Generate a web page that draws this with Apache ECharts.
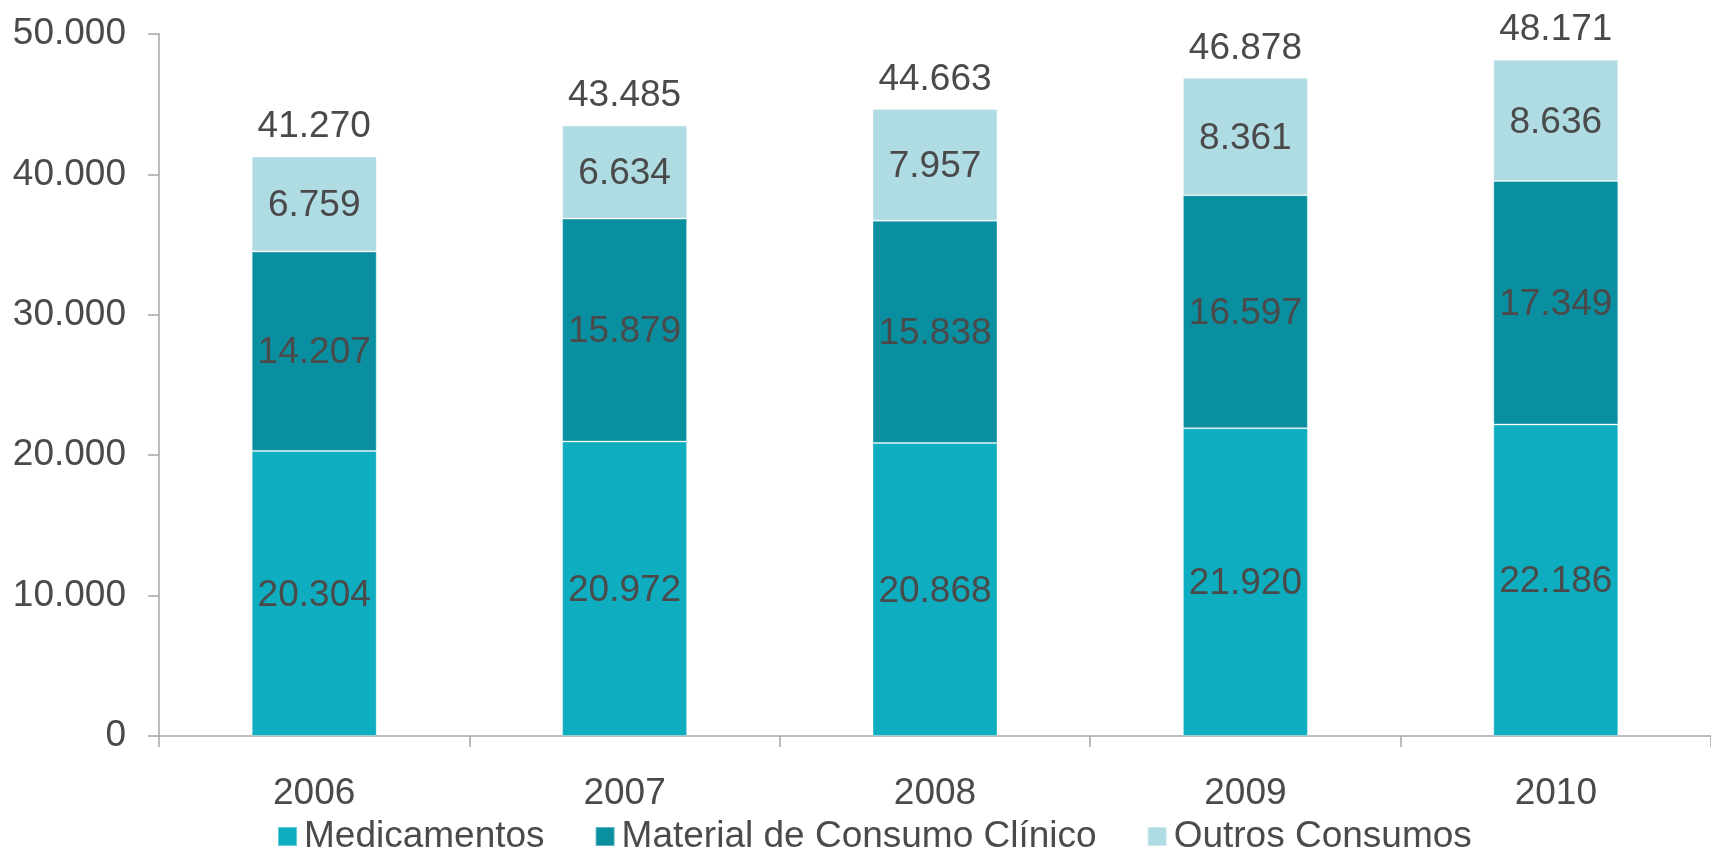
<!DOCTYPE html>
<html>
<head>
<meta charset="utf-8">
<script src="https://cdn.jsdelivr.net/npm/echarts@6/dist/echarts.min.js"></script>
<style>
  html, body { margin: 0; padding: 0; background: #fff; }
  #chart { width: 1711px; height: 849px; }
</style>
</head>
<body>
<div id="chart"></div>
<script>
var anos = ['2006', '2007', '2008', '2009', '2010'];
var medicamentos = [20304, 20972, 20868, 21920, 22186];
var material = [14207, 15879, 15838, 16597, 17349];
var outros = [6759, 6634, 7957, 8361, 8636];
var totais = [41270, 43485, 44663, 46878, 48171];

var corTexto = '#4a4a4a';
var fonte = 'Liberation Sans, Arial, sans-serif';

// 41270 -> "41.270"
function fmt(v) {
    return String(v).replace(/\B(?=(\d{3})+(?!\d))/g, '.');
}

var myChart = echarts.init(document.getElementById('chart'));

var labelDentro = {
    show: true,
    position: 'inside',
    offset: [0, 2],
    color: corTexto,
    fontSize: 37,
    fontFamily: fonte,
    formatter: function (p) { return fmt(p.value); }
};

var option = {
    backgroundColor: '#ffffff',
    animation: false,
    textStyle: { fontFamily: fonte },
    grid: {
        left: 159,
        top: 34,
        width: 1566,
        height: 702
    },
    legend: {
        left: 272,
        top: 813,
        itemWidth: 19,
        itemHeight: 19,
        itemGap: 50,
        icon: 'rect',
        textStyle: { color: corTexto, fontSize: 37, fontFamily: fonte, padding: [0, 0, 0, 2] },
        data: ['Medicamentos', 'Material de Consumo Clínico', 'Outros Consumos']
    },
    xAxis: {
        type: 'category',
        data: anos,
        axisLine: { lineStyle: { color: '#a6a6a6', width: 1.5 } },
        axisTick: { show: true, length: 11, lineStyle: { color: '#a6a6a6', width: 1.5 } },
        axisLabel: { color: corTexto, fontSize: 37, fontFamily: fonte, margin: 39 }
    },
    yAxis: {
        type: 'value',
        min: 0,
        max: 50000,
        interval: 10000,
        axisLine: { show: true, lineStyle: { color: '#a6a6a6', width: 1.5 } },
        axisTick: { show: true, length: 11, lineStyle: { color: '#a6a6a6', width: 1.5 } },
        splitLine: { show: false },
        axisLabel: {
            color: corTexto, fontSize: 37, fontFamily: fonte, margin: 33,
            formatter: function (v) { return fmt(v); }
        }
    },
    series: [
        {
            name: 'Medicamentos',
            type: 'bar',
            stack: 'total',
            barWidth: 125,
            data: medicamentos,
            itemStyle: { color: '#0eadbf', borderColor: 'rgba(255,255,255,0.35)', borderWidth: 1 },
            label: labelDentro
        },
        {
            name: 'Material de Consumo Clínico',
            type: 'bar',
            stack: 'total',
            data: material,
            itemStyle: { color: '#0a8fa0', borderColor: 'rgba(255,255,255,0.35)', borderWidth: 1 },
            label: labelDentro
        },
        {
            name: 'Outros Consumos',
            type: 'bar',
            stack: 'total',
            data: outros,
            itemStyle: { color: '#afdbe3', borderColor: 'rgba(255,255,255,0.35)', borderWidth: 1 },
            label: labelDentro
        },
        {
            // totais por cima das barras (linha invisivel so para o rotulo)
            name: 'Total',
            type: 'line',
            data: totais,
            symbol: 'circle',
            symbolSize: 2,
            showSymbol: true,
            itemStyle: { color: 'rgba(0,0,0,0)', borderWidth: 0 },
            lineStyle: { color: 'rgba(0,0,0,0)', width: 0 },
            silent: true,
            z: 10,
            label: {
                show: true,
                position: 'top',
                distance: 10,
                color: corTexto,
                fontSize: 37,
                fontFamily: fonte,
                formatter: function (p) { return fmt(p.value); }
            }
        }
    ]
};
myChart.setOption(option);
</script>
</body>
</html>
